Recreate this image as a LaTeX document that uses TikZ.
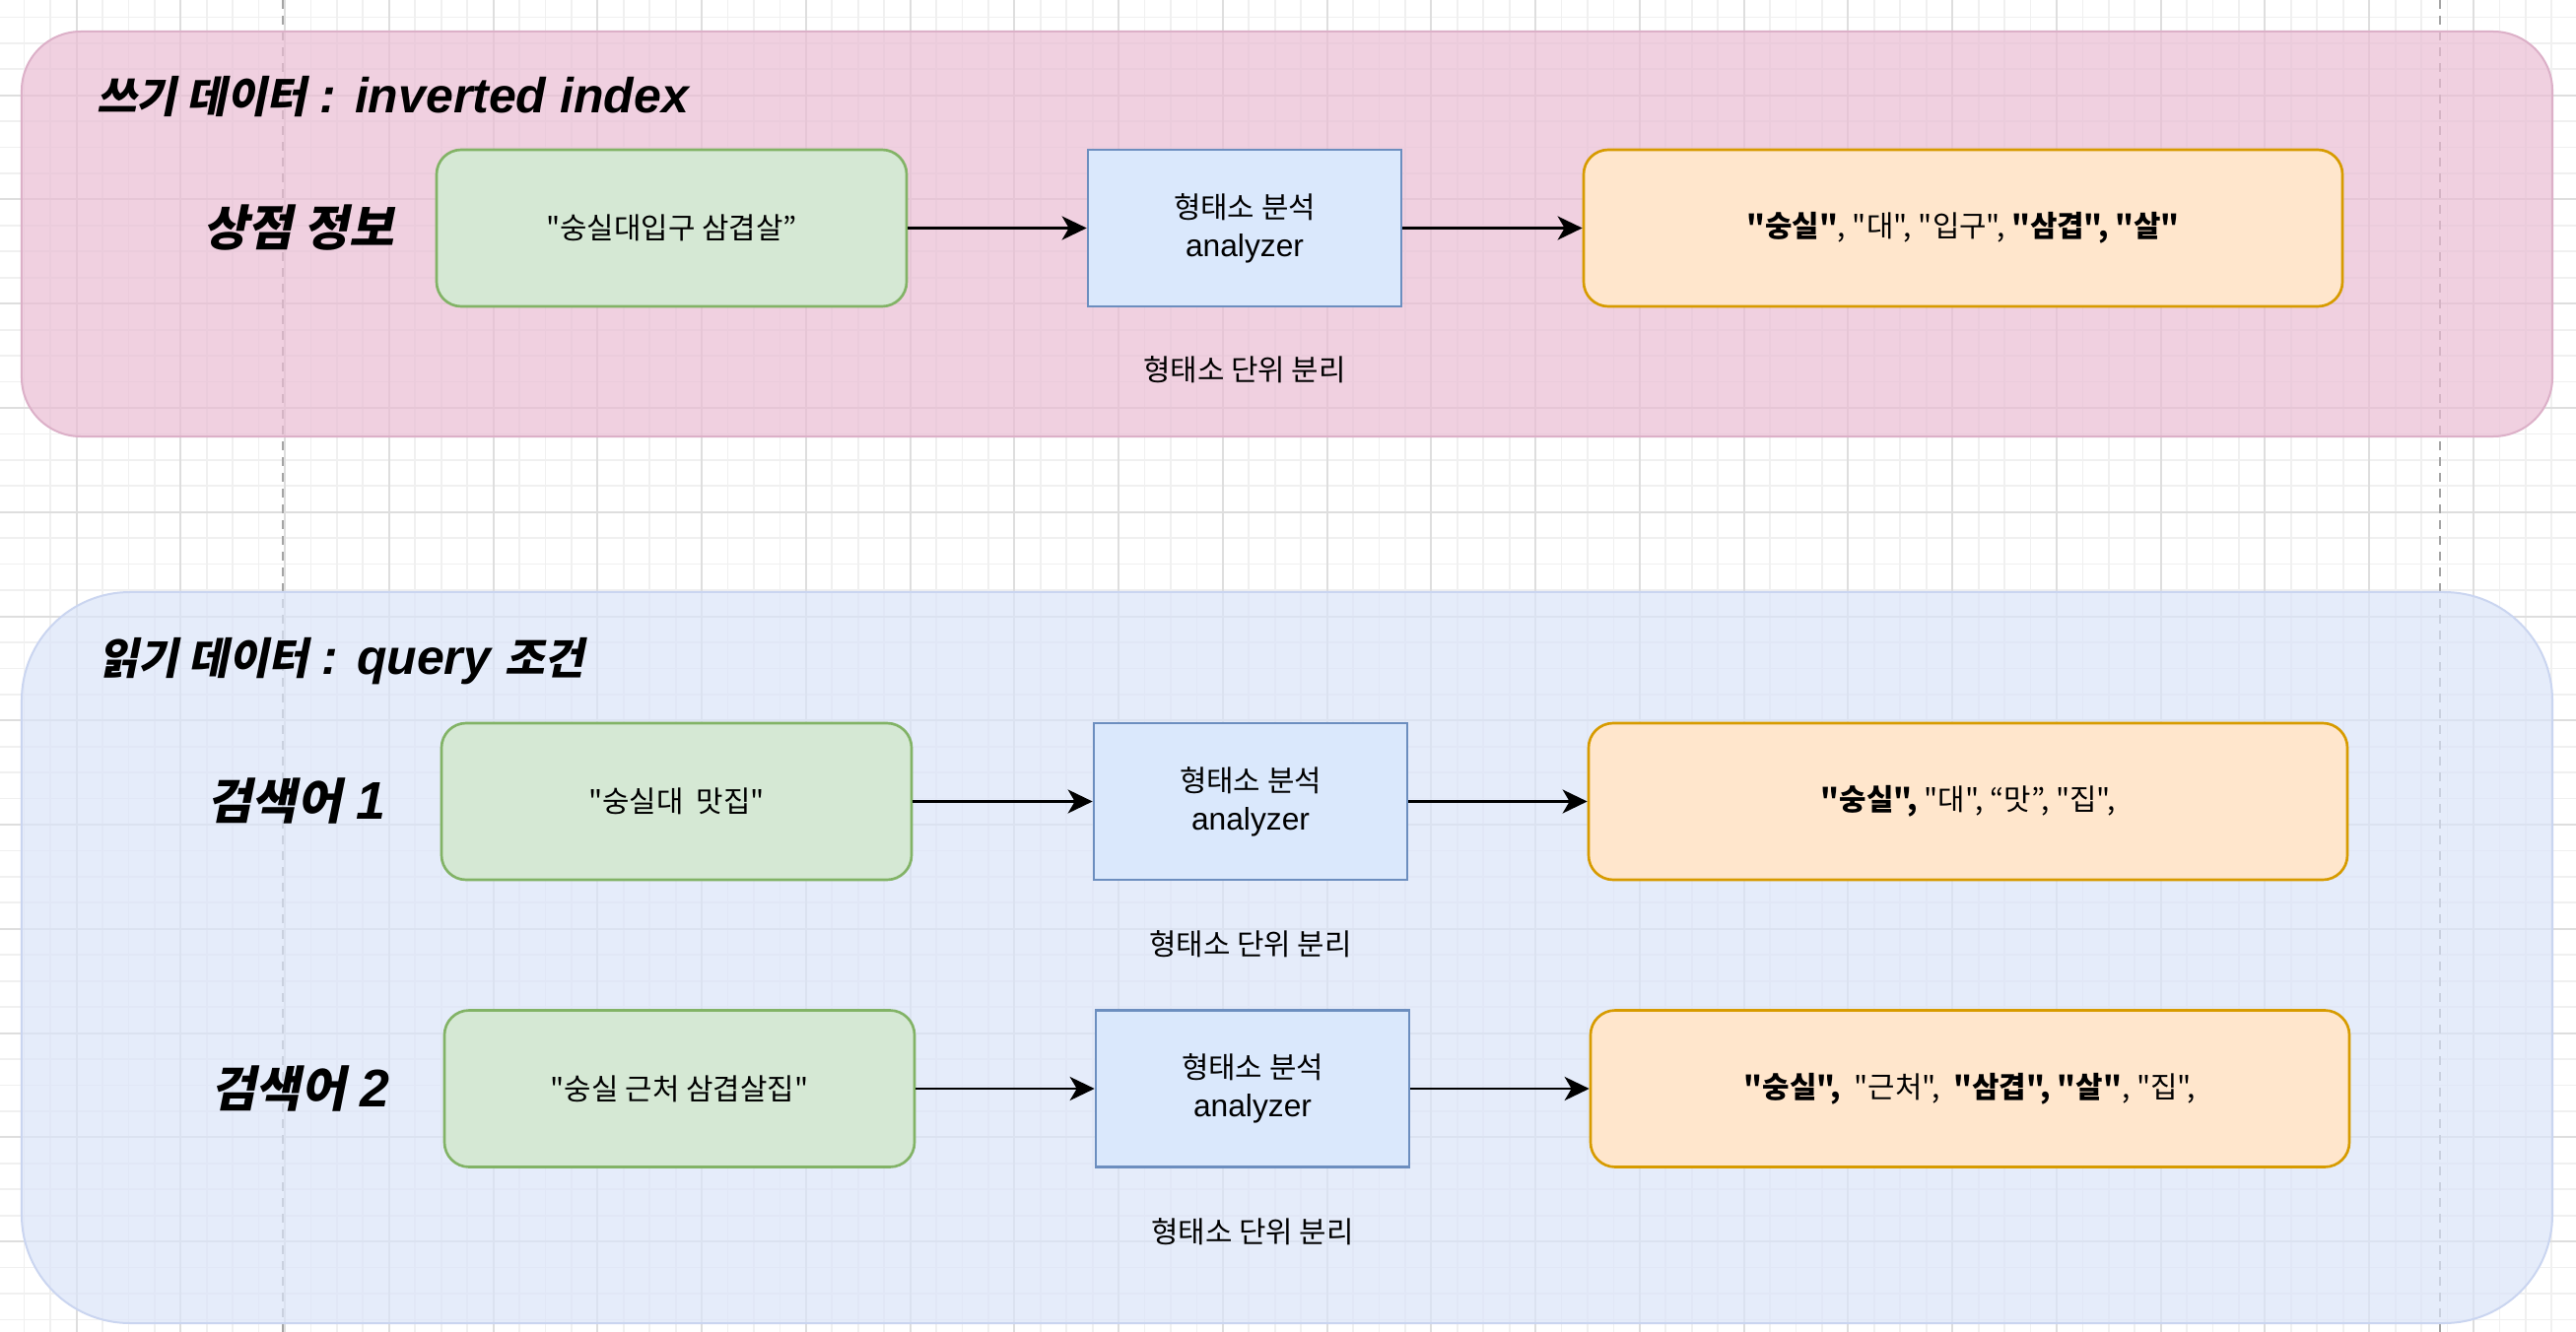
\documentclass[tikz,border=0pt]{standalone}
\usepackage{fontspec}
\setmainfont{Liberation Sans}
\newfontfamily\kr[Scale=0.94]{Noto Sans CJK KR}
\newfontfamily\krsl[Scale=0.88,FakeSlant=0.2]{Noto Sans CJK KR}
\newfontfamily\krlab[Scale=0.92,FakeSlant=0.2]{Noto Sans CJK KR}
\usetikzlibrary{arrows.meta}
\definecolor{pinkbg}{RGB}{234,189,212}
\definecolor{pinkln}{RGB}{220,176,200}
\definecolor{bluebg}{RGB}{219,228,249}
\definecolor{blueln}{RGB}{202,213,240}
\definecolor{gridminor}{RGB}{240,240,240}
\definecolor{gridmajor}{RGB}{222,222,222}
\definecolor{pagebrk}{RGB}{165,165,165}
\definecolor{gfill}{HTML}{D5E8D4}\definecolor{gline}{HTML}{82B366}
\definecolor{bfill}{HTML}{DAE8FC}\definecolor{bline}{HTML}{6C8EBF}
\definecolor{ofill}{HTML}{FFE6CC}\definecolor{oline}{HTML}{D79B00}
\begin{document}
\begin{tikzpicture}[x=0.4pt,y=-0.4pt,
  box/.style={draw, line width=1.06pt, minimum height=63.6pt, inner sep=0pt, align=center, font=\fontsize{12.7}{15.6}\selectfont},
  inbox/.style={box, fill=gfill, draw=gline, rounded corners=10pt, minimum width=190.8pt},
  anbox/.style={box, fill=bfill, draw=bline, minimum width=127.2pt},
  outbox/.style={box, fill=ofill, draw=oline, rounded corners=10pt, minimum width=308pt},
  rowlabel/.style={font=\fontsize{21.5}{25}\selectfont\bfseries\itshape, inner sep=0pt},
  title/.style={font=\fontsize{20}{24}\selectfont\bfseries\itshape, inner sep=0pt, anchor=base west},
  note/.style={font=\fontsize{12.7}{15.2}\selectfont, inner sep=0pt},
  arr/.style={line width=1.1pt, -{Stealth[length=10pt,width=9.6pt,inset=2.8pt]}},
  group/.style={line width=0.8pt, fill opacity=0.7, minimum width=1027.2pt, inner sep=0pt}
]
\useasboundingbox (0,0) rectangle (2614,1352);
\fill[white] (0,0) rectangle (2614,1352);
\begin{scope}
\clip (0,0) rectangle (2614,1352);
\foreach \i in {-3,...,96} \draw[gridminor, line width=0.7pt] ({77.5+26.44*\i},0) -- ({77.5+26.44*\i},1352);
\foreach \j in {-4,...,48} \draw[gridminor, line width=0.7pt] (0,{96.7+26.44*\j}) -- (2614,{96.7+26.44*\j});
\foreach \i in {-1,...,24} \draw[gridmajor, line width=0.8pt] ({77.5+105.76*\i},0) -- ({77.5+105.76*\i},1352);
\foreach \j in {-1,...,12} \draw[gridmajor, line width=0.8pt] (0,{96.7+105.76*\j}) -- (2614,{96.7+105.76*\j});
\draw[pagebrk, line width=0.8pt, dash pattern=on 3.6pt off 2.8pt] (287,0) -- (287,1352);
\draw[pagebrk, line width=0.8pt, dash pattern=on 3.6pt off 2.8pt] (2476,0) -- (2476,1352);
\end{scope}

% containers
\node[group, fill=pinkbg, draw=pinkln, rounded corners=24pt, minimum height=164.4pt] (write) at (1306,237.5) {};
\node[group, fill=bluebg, draw=blueln, rounded corners=44pt, minimum height=296.8pt] (read) at (1306,972) {};

% titles
\node[title] (t1) at (98,115) {{\krsl\upshape 쓰기 데이터} : inverted index};
\node[title] (t2) at (100,684) {{\krsl\upshape 읽기 데이터} : query {\krsl\upshape 조건}};

% row labels
\node[rowlabel] (l1) at (303,231) {{\krlab\upshape 상점 정보}};
\node[rowlabel] (l2) at (301,813) {{\krlab\upshape 검색어} 1};
\node[rowlabel] (l3) at (305,1105) {{\krlab\upshape 검색어} 2};

% row 1
\node[inbox] (g1) at (681.5,231.5) {\kr "숭실대입구 삼겹살”};
\node[anbox] (a1) at (1263,231.5) {{\kr 형태소 분석}\\analyzer};
\node[outbox] (o1) at (1992,231.5) {\kr{\bfseries "숭실"}, "대", "입구", {\bfseries "삼겹", "살"}};
\node[note] (n1) at (1263,375) {\kr 형태소 단위 분리};
\draw[arr] (g1.east) -- (a1.west);
\draw[arr] (a1.east) -- (o1.west);

% row 2
\node[inbox] (g2) at (686.5,813.5) {\kr "숭실대~~맛집"};
\node[anbox] (a2) at (1269,813.5) {{\kr 형태소 분석}\\analyzer};
\node[outbox] (o2) at (1997,813.5) {\kr{\bfseries "숭실",} "대", “맛”, "집",};
\node[note] (n2) at (1269,958) {\kr 형태소 단위 분리};
\draw[arr] (g2.east) -- (a2.west);
\draw[arr] (a2.east) -- (o2.west);

% row 3
\node[inbox] (g3) at (689.5,1105) {\kr "숭실 근처 삼겹살집"};
\node[anbox] (a3) at (1271,1105) {{\kr 형태소 분석}\\analyzer};
\node[outbox] (o3) at (1999,1105) {\kr{\bfseries "숭실",}~~"근처",~~{\bfseries "삼겹", "살"}, "집",};
\node[note] (n3) at (1271,1250) {\kr 형태소 단위 분리};
\draw[arr] (g3.east) -- (a3.west);
\draw[arr] (a3.east) -- (o3.west);
\end{tikzpicture}
\end{document}
